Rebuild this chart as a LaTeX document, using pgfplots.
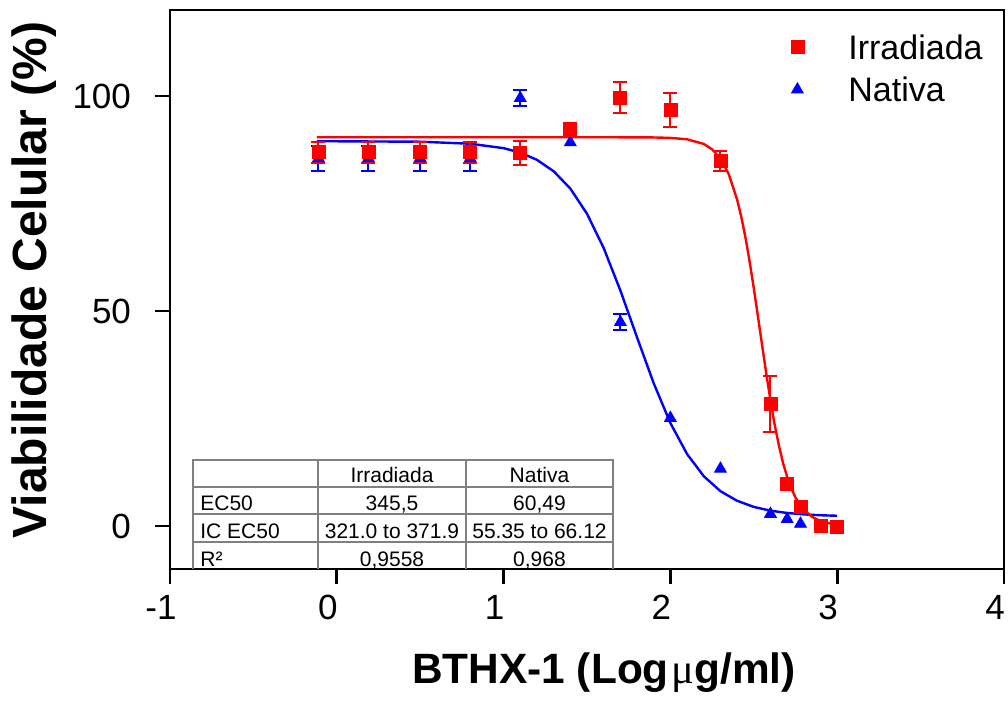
\documentclass[border=0pt]{standalone}
\usepackage{fontspec}
\setmainfont{Liberation Sans}
\newfontfamily\seriffont{Liberation Serif}
\usepackage{pgfplots}
\pgfplotsset{compat=1.18}
\definecolor{tgray}{RGB}{128,128,128}
\begin{document}
\begin{tikzpicture}
\useasboundingbox (0,0) rectangle (504pt,354.5pt);
\begin{axis}[
  at={(85pt,70pt)}, anchor=south west,
  scale only axis, width=417pt, height=279.5pt,
  xmin=-1, xmax=4, ymin=-10, ymax=120,
  xtick={-1,0,1,2,3,4}, xticklabels={-1,0,1,2,3,4},
  ytick={0,50,100}, yticklabels={0,50,100},
  tick align=outside, tick pos=left,
  major tick length=7.5pt,
  axis line style={line width=1.35pt},
  every tick/.style={black, line width=1.35pt},
  ticklabel style={font=\fontsize{17.5}{20}\selectfont},
  xticklabel style={xshift=-4.5pt, yshift=-2pt},
  yticklabel style={xshift=-8.5pt},
  legend style={draw=none, fill=none, inner sep=0pt, at={(0.744,0.957)}, anchor=north west,
    font=\fontsize{17}{20}\selectfont, row sep=7.6pt, nodes={inner sep=0pt, inner xsep=3.5pt}},
  legend cell align=left,
  legend image code/.code={\draw[#1] plot coordinates {(0pt,0.75pt)}; \path[draw=none] (0pt,0pt) -- (22pt,0pt);},
  clip=false,
]
\addlegendimage{only marks, mark=square*, mark size=3.25pt, color=red}
\addlegendentry{Irradiada}
\addlegendimage{only marks, mark=triangle*, mark size=3.4pt, color=blue}
\addlegendentry{Nativa}

% fitted curve Nativa
\addplot[blue, line width=1.2pt, forget plot] coordinates {
(-0.12,89.49) (0.5,89.37) (0.8,88.90) (1.0,87.87) (1.1,86.83) (1.2,85.15) (1.3,82.50)
(1.4,78.48) (1.5,72.61) (1.6,64.65) (1.7,54.78) (1.8,43.87) (1.9,33.18) (2.0,23.93)
(2.1,16.73) (2.2,11.58) (2.3,8.10) (2.4,5.86) (2.5,4.44) (2.6,3.56) (2.7,3.03)
(2.8,2.70) (2.9,2.50) (3.0,2.38)};
% fitted curve Irradiada
\addplot[red, line width=1.2pt, forget plot] coordinates {
(-0.12,90.4) (1.6,90.4) (1.8,90.39) (1.9,90.36) (2.0,90.26) (2.1,89.93) (2.2,88.85)
(2.25,87.6) (2.3,85.5) (2.35,81.8) (2.4,75.9) (2.425,71.9) (2.45,67.1) (2.475,61.5)
(2.5,55.3) (2.525,48.7) (2.55,42.0) (2.575,35.4) (2.6,29.2) (2.625,23.6) (2.65,18.8)
(2.675,14.7) (2.7,11.4) (2.725,8.71) (2.75,6.62) (2.775,5.0) (2.8,3.77) (2.85,2.11)
(2.9,1.17) (2.95,0.65) (3.0,0.36)};

% Nativa data with error bars
\addplot[blue, only marks, mark=triangle*, mark size=3.4pt, forget plot,
  error bars/.cd, y dir=both, y explicit,
  error bar style={line width=1pt},
  error mark options={rotate=90, mark size=3.5pt, line width=1pt}]
 coordinates {(-0.11,85.5) +- (0,2.9) (0.19,85.5) +- (0,2.9) (0.50,85.5) +- (0,2.9)
 (0.80,85.5) +- (0,2.9) (1.10,99.5) +- (0,1.8) (1.70,47.4) +- (0,1.9)};
\addplot[blue, only marks, mark=triangle*, mark size=3.4pt, forget plot]
 coordinates {(1.40,89.2) (2.00,25.1) (2.30,13.3) (2.60,2.8) (2.70,1.6) (2.78,0.5)};

% Irradiada data with error bars
\addplot[red, only marks, mark=square*, mark size=3.25pt, forget plot,
  error bars/.cd, y dir=both, y explicit,
  error bar style={line width=1pt},
  error mark options={rotate=90, mark size=3.5pt, line width=1pt}]
 coordinates {(-0.11,86.9) +- (0,2.4) (0.19,86.9) +- (0,2.4) (0.50,86.9) +- (0,2.4)
 (0.80,86.9) +- (0,2.4) (1.10,86.8) +- (0,2.8) (1.40,92.2) +- (0,1.5)
 (1.70,99.6) +- (0,3.6) (2.00,96.8) +- (0,4.0) (2.30,84.9) +- (0,2.3) (2.60,28.4) +- (0,6.5)};
\addplot[red, only marks, mark=square*, mark size=3.25pt, forget plot]
 coordinates {(2.70,9.8) (2.78,4.4) (2.90,0.0) (3.00,-0.2)};
\end{axis}

% results table
\begin{scope}[tgray, line width=0.8pt]
\draw (96.5pt,70pt) -- (96.5pt,124.5pt) -- (306.5pt,124.5pt) -- (306.5pt,70pt);
\draw (159pt,70pt) -- (159pt,124.5pt);
\draw (233pt,70pt) -- (233pt,124.5pt);
\draw (96.5pt,111pt) -- (306.5pt,111pt);
\draw (96.5pt,97.5pt) -- (306.5pt,97.5pt);
\draw (96.5pt,83.5pt) -- (306.5pt,83.5pt);
\end{scope}
\begin{scope}[every node/.style={inner sep=0pt, font=\fontsize{10.5}{12}\selectfont}]
\node[anchor=base] at (196pt,113.5pt) {Irradiada};
\node[anchor=base] at (269.75pt,113.5pt) {Nativa};
\node[anchor=base west] at (100pt,99.5pt) {EC50};
\node[anchor=base] at (196pt,99.5pt) {345,5};
\node[anchor=base] at (269.75pt,99.5pt) {60,49};
\node[anchor=base west] at (100pt,85.5pt) {IC EC50};
\node[anchor=base] at (196pt,85.5pt) {321.0 to 371.9};
\node[anchor=base] at (269.75pt,85.5pt) {55.35 to 66.12};
\node[anchor=base west] at (100pt,71.5pt) {R²};
\node[anchor=base] at (196pt,71.5pt) {0,9558};
\node[anchor=base] at (269.75pt,71.5pt) {0,968};
\end{scope}

% axis labels
\node[anchor=base, inner sep=0pt, font=\bfseries\fontsize{21.2}{24}\selectfont] at (302pt,13pt)
  {BTHX-1 (Log\kern1.5pt{\mdseries\seriffont μ}g/ml)};
\node[anchor=base, rotate=90, inner sep=0pt, font=\bfseries\fontsize{24}{28}\selectfont] at (23pt,214.5pt)
  {Viabilidade Celular (\%)};
\end{tikzpicture}
\end{document}
